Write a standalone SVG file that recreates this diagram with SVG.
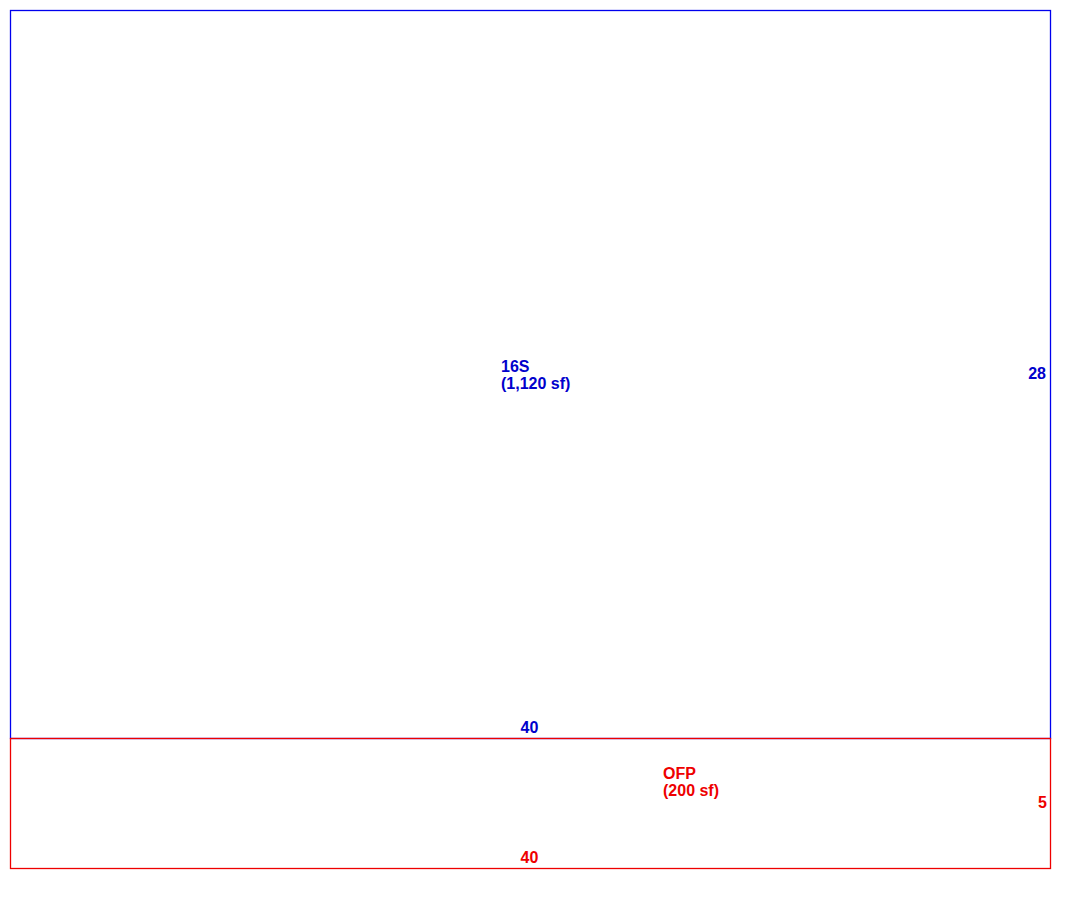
<svg xmlns="http://www.w3.org/2000/svg" width="1074" height="898" viewBox="0 0 1074 898">
<style>
.b{fill:none;stroke:#0000ee;stroke-width:1.3}
.r{fill:none;stroke:#ee0000;stroke-width:1.3}
text{font-family:"Liberation Sans",Arial,sans-serif;font-size:16px;font-weight:bold}
.tb{fill:#0000cc}
.tr{fill:#ee0000}
</style>
<rect width="1074" height="898" fill="#fff"/>
<g id="area-16S">
<rect class="b" x="10.5" y="10.5" width="1040" height="728"/>
<text class="tb" x="501" y="372">16S</text>
<text class="tb" x="501" y="389">(1,120 sf)</text>
<text class="tb" x="1046" y="379" text-anchor="end">28</text>
<text class="tb" x="529.5" y="733" text-anchor="middle">40</text>
</g>
<g id="area-OFP">
<rect class="r" x="10.5" y="738.5" width="1040" height="130"/>
<text class="tr" x="663" y="779">OFP</text>
<text class="tr" x="663" y="796">(200 sf)</text>
<text class="tr" x="1047" y="808" text-anchor="end">5</text>
<text class="tr" x="529.5" y="863" text-anchor="middle">40</text>
</g>
<g id="connectors"/>
</svg>
